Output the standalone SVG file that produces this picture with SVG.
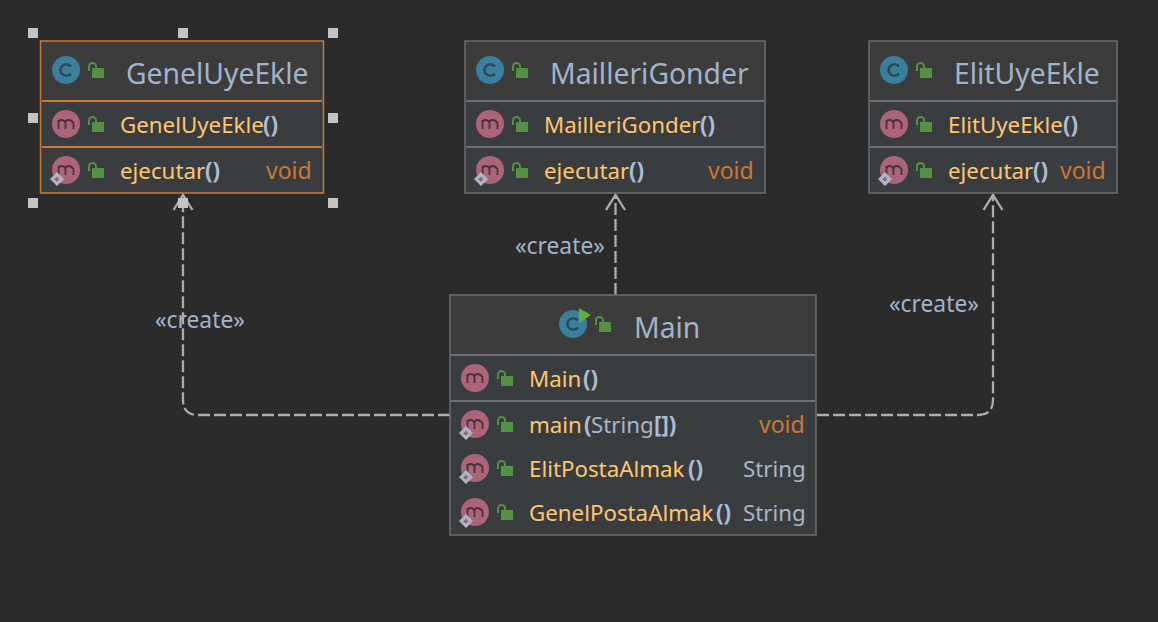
<svg xmlns="http://www.w3.org/2000/svg" width="1158" height="622" viewBox="0 0 1158 622">
<style>
text{font-family:"Noto Sans","Open Sans","Liberation Sans",sans-serif;font-size:22.3px}
.box{fill:#3a3d40;stroke:#6b6e70;stroke-width:1.5}
.head{fill:#3c3c3c}
.sep{stroke:#6f7173;stroke-width:2}
.sel .box{stroke:#cc7832}
.sel .sep{stroke:#cc7832}
.title{fill:#a0b4cc;font-size:28.3px}
.m{fill:#ffc66d}
.p{fill:#a9bdd6;font-weight:bold}
.t{fill:#a9b7c6}
.v{fill:#cc7832;font-size:23px}
.lbl{fill:#a0b4cc;font-size:22.8px}
.conn{fill:none;stroke:#aeaeae;stroke-width:2.300;stroke-dasharray:12 4}
.arrow{fill:none;stroke:#aeaeae;stroke-width:2.300}
.h{fill:#c4c4c4}
</style>
<defs>
<g id="lock"><rect x="4" y="6" width="12" height="10" fill="#549243"/><path d="M1 9V4.500a3.500 3.500 0 0 1 7 0V7" fill="none" stroke="#549243" stroke-width="2"/></g>
<g id="ci"><circle r="14" fill="#3b7f9e"/><path d="M5 -3.600A6 5.600 0 1 0 5 3.600" fill="none" stroke="#2c4653" stroke-width="2.400"/></g>
<g id="mi"><circle r="14" fill="#ab6479"/><path d="M-8 5V-4M-8 -1Q-8 -4 -5 -4T-1 -1V5M-1 -1Q-1 -4 2 -4T7 -1V5" transform="translate(0.500 0)" fill="none" stroke="#4e3038" stroke-width="1.800"/></g>
<path id="dia" d="M0 -7L7 0L0 7L-7 0Z M0 -2.500L-2.500 0L0 2.500L2.500 0Z" fill="#a9b7c6" fill-rule="evenodd"/>
</defs>
<rect width="1158" height="622" fill="#2b2b2b"/>
<g id="connectors">
<path class="conn" d="M450 415H198Q183 415 183 400V196"/>
<path class="arrow" d="M173.500 210L183 195L192.500 210"/>
<path class="conn" d="M615.500 295V196"/>
<path class="arrow" d="M606 210L615.500 195L625 210"/>
<path class="conn" d="M817 415H978Q993 415 993 400V196"/>
<path class="arrow" d="M983.500 210L993 195L1002.500 210"/>
<text class="lbl" x="515" y="254">«create»</text>
<text class="lbl" x="155" y="328">«create»</text>
<text class="lbl" x="889" y="312">«create»</text>
</g>
<g id="GenelUyeEkle" class="sel">
<rect class="box" x="40.500" y="41" width="283" height="152"/>
<rect class="head" x="42" y="42" width="280" height="59"/>
<path class="sep" d="M42 101H322M42 147H322"/>
<use href="#ci" x="66" y="70"/><use href="#lock" x="88" y="62"/>
<text class="title" x="126" y="84">GenelUyeEkle</text>
<use href="#mi" x="66" y="124"/><use href="#lock" x="88" y="116"/>
<text class="m" x="120" y="133">GenelUyeEkle</text><text class="p" x="263" y="133">()</text>
<use href="#mi" x="66" y="170"/><use href="#lock" x="88" y="162"/><use href="#dia" x="57" y="179"/>
<text class="m" x="120" y="179">ejecutar</text><text class="p" x="205" y="179">()</text>
<text class="v" x="266" y="179">void</text>
<g class="h"><rect x="28" y="28" width="10" height="10"/><rect x="178" y="28" width="10" height="10"/><rect x="328" y="28" width="10" height="10"/><rect x="28" y="113" width="10" height="10"/><rect x="328" y="113" width="10" height="10"/><rect x="28" y="198" width="10" height="10"/><rect x="178" y="198" width="10" height="10"/><rect x="328" y="198" width="10" height="10"/></g>
</g>
<g id="MailleriGonder">
<rect class="box" x="465" y="41" width="300" height="152"/>
<rect class="head" x="466" y="42" width="298" height="59"/>
<path class="sep" d="M466 101H764M466 147H764"/>
<use href="#ci" x="490" y="70"/><use href="#lock" x="512" y="62"/>
<text class="title" x="550" y="84">MailleriGonder</text>
<use href="#mi" x="490" y="124"/><use href="#lock" x="512" y="116"/>
<text class="m" x="544" y="133">MailleriGonder</text><text class="p" x="700" y="133">()</text>
<use href="#mi" x="490" y="170"/><use href="#lock" x="512" y="162"/><use href="#dia" x="481" y="179"/>
<text class="m" x="544" y="179">ejecutar</text><text class="p" x="629" y="179">()</text>
<text class="v" x="708" y="179">void</text>
</g>
<g id="ElitUyeEkle">
<rect class="box" x="869" y="41" width="248" height="152"/>
<rect class="head" x="870" y="42" width="246" height="59"/>
<path class="sep" d="M870 101H1116M870 147H1116"/>
<use href="#ci" x="894" y="70"/><use href="#lock" x="916" y="62"/>
<text class="title" x="954" y="84">ElitUyeEkle</text>
<use href="#mi" x="894" y="124"/><use href="#lock" x="916" y="116"/>
<text class="m" x="948" y="133">ElitUyeEkle</text><text class="p" x="1063" y="133">()</text>
<use href="#mi" x="894" y="170"/><use href="#lock" x="916" y="162"/><use href="#dia" x="885" y="179"/>
<text class="m" x="948" y="179">ejecutar</text><text class="p" x="1033" y="179">()</text>
<text class="v" x="1060" y="179">void</text>
</g>
<g id="Main">
<rect class="box" x="450" y="295" width="366" height="240"/>
<rect class="head" x="451" y="296" width="364" height="59"/>
<path class="sep" d="M451 355H815M451 401H815"/>
<use href="#ci" x="573" y="324"/><path d="M579 308L591 315L579 323Z" fill="#5fb13c"/><use href="#lock" x="595" y="316"/>
<text class="title" x="634" y="338">Main</text>
<use href="#mi" x="475" y="378"/><use href="#lock" x="497" y="370"/>
<text class="m" x="529" y="387">Main</text><text class="p" x="583" y="387">()</text>
<use href="#mi" x="475" y="424"/><use href="#lock" x="497" y="416"/><use href="#dia" x="466" y="433"/>
<text class="m" x="529" y="433">main</text><text class="p" x="584" y="433">(</text><text class="t" x="591" y="433">String</text><text class="p" x="654" y="433">[])</text>
<text class="v" x="759" y="433">void</text>
<use href="#mi" x="475" y="468"/><use href="#lock" x="497" y="460"/><use href="#dia" x="466" y="477"/>
<text class="m" x="529" y="477">ElitPostaAlmak</text><text class="p" x="688" y="477">()</text>
<text class="t" x="743" y="477">String</text>
<use href="#mi" x="475" y="512"/><use href="#lock" x="497" y="504"/><use href="#dia" x="466" y="521"/>
<text class="m" x="529" y="521">GenelPostaAlmak</text><text class="p" x="716" y="521">()</text>
<text class="t" x="743" y="521">String</text>
</g>
</svg>
